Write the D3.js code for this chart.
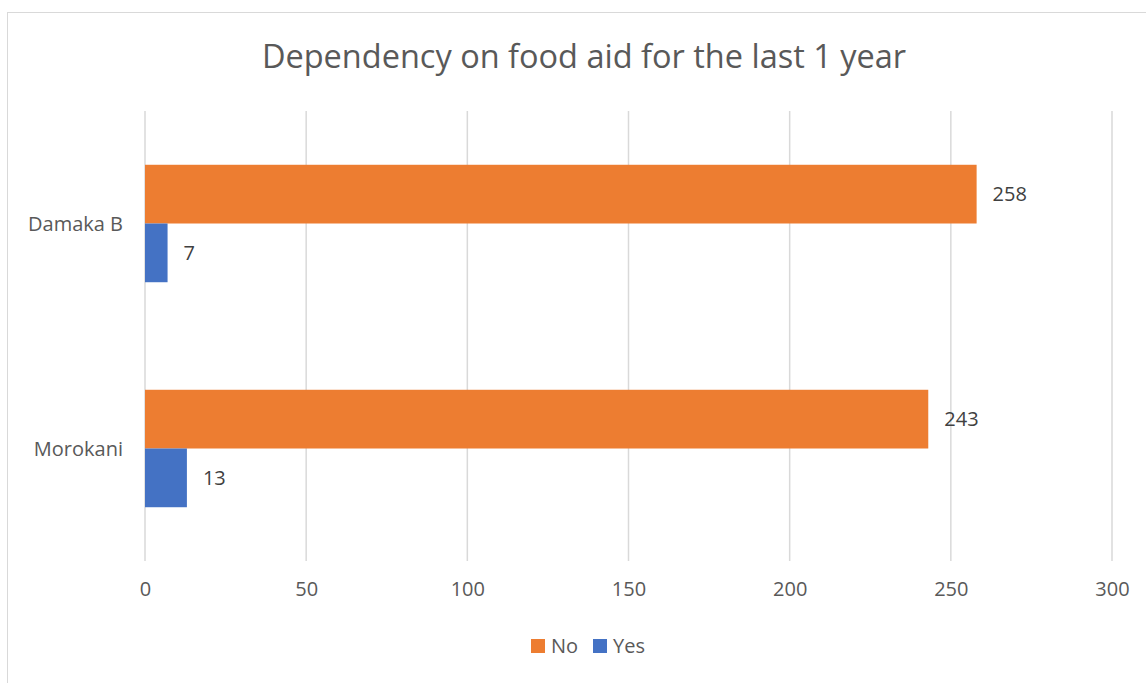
<!DOCTYPE html>
<html><head><meta charset="utf-8">
<script src="https://cdn.jsdelivr.net/npm/d3@7"></script>
<style>body{margin:0;background:#fff}svg{display:block}text{font-family:"Open Sans",sans-serif}</style>
</head><body><svg id="c" width="1146" height="683"></svg>
<script>
const title = "Dependency on food aid for the last 1 year";
const categories = ["Damaka B", "Morokani"];
const seriesNames = ["No", "Yes"];
const noValues = [258, 243];
const yesValues = [7, 13];
const xTicks = [0, 50, 100, 150, 200, 250, 300];
const colors = {No: "#ED7D31", Yes: "#4472C4"};

const svg = d3.select("#c");
svg.append("rect").attr("x",7.5).attr("y",12.5).attr("width",1150).attr("height",700)
  .attr("fill","#fff").attr("stroke","#d9d9d9");

const m = {left:145, right:1112, top:111, bottom:561};
const x = d3.scaleLinear().domain([0,300]).range([m.left, m.right]);
const y0 = d3.scaleBand().domain(categories).range([m.top, m.bottom]).paddingInner(0.478).paddingOuter(0.239);
const y1 = d3.scaleBand().domain(seriesNames).range([0, y0.bandwidth()]);

const data = categories.map((c,i)=>({cat:c, vals:[{s:"No",v:noValues[i]},{s:"Yes",v:yesValues[i]}]}));

// gridlines
svg.append("g").selectAll("line").data(xTicks).join("line")
  .attr("x1",d=>x(d)).attr("x2",d=>x(d)).attr("y1",m.top).attr("y2",m.bottom)
  .attr("stroke","#d9d9d9").attr("stroke-width",1.5);

const ax = svg.append("g").attr("transform",`translate(0,${m.bottom})`)
  .call(d3.axisBottom(x).tickValues(xTicks).tickSize(0).tickPadding(21));
ax.select(".domain").remove();
ax.selectAll("text").attr("font-size",20).attr("fill","#595959").attr("font-family","Open Sans");

const g = svg.append("g").selectAll("g").data(data).join("g")
  .attr("transform",d=>`translate(0,${y0(d.cat)})`);
g.selectAll("rect").data(d=>d.vals).join("rect")
  .attr("x",x(0)).attr("y",d=>y1(d.s)).attr("width",d=>x(d.v)-x(0)).attr("height",y1.bandwidth())
  .attr("fill",d=>colors[d.s]);
g.selectAll("text").data(d=>d.vals).join("text")
  .attr("x",d=>x(d.v)+16).attr("y",d=>y1(d.s)+y1.bandwidth()/2).attr("dy","0.35em")
  .attr("font-size",20).attr("fill","#404040").text(d=>d.v);

// category labels
svg.append("g").selectAll("text").data(categories).join("text")
  .attr("x",123).attr("y",d=>y0(d)+y0.bandwidth()/2).attr("dy","0.35em")
  .attr("text-anchor","end").attr("font-size",20).attr("fill","#595959").text(d=>d);

svg.append("text").attr("x",584).attr("y",57).attr("dy","0.35em").attr("text-anchor","middle")
  .attr("font-size",32.5).attr("fill","#595959").text(title);

// legend
const leg = svg.append("g");
const lx = [531, 593];
seriesNames.forEach((s,i)=>{
  leg.append("rect").attr("x",lx[i]).attr("y",639).attr("width",14).attr("height",14).attr("fill",colors[s]);
  leg.append("text").attr("x",lx[i]+20).attr("y",646).attr("dy","0.35em").attr("font-size",20).attr("fill","#595959").text(s);
});
</script></body></html>
